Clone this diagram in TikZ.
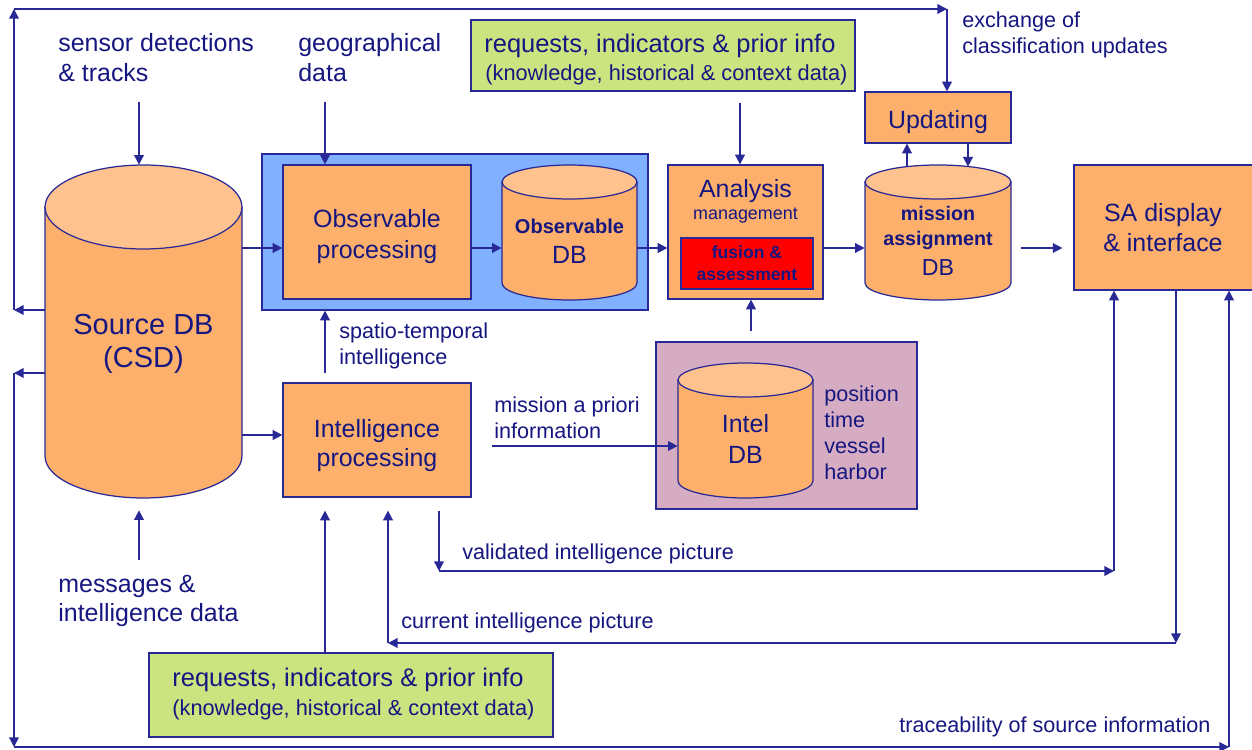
\documentclass[tikz,border=0pt]{standalone}
\usepackage{fontspec}
\setmainfont{Liberation Sans}
\usetikzlibrary{arrows.meta,calc}
\definecolor{ink}{RGB}{22,22,128}
\definecolor{edge}{RGB}{40,40,150}
\definecolor{orng}{RGB}{252,176,108}
\definecolor{orngtop}{RGB}{253,194,142}
\definecolor{skyb}{RGB}{128,176,255}
\definecolor{lime}{RGB}{204,228,128}
\definecolor{mauve}{RGB}{214,172,194}
\newcommand\fs[2]{\fontsize{#1}{#2}\selectfont}
\begin{document}
\begin{tikzpicture}[x=0.02cm,y=-0.02cm,
  every node/.style={inner sep=0pt, text=ink},
  box/.style={draw=edge, line width=0.7pt, fill=orng, rectangle},
  holder/.style={rectangle, draw=none, fill=none},
  arr/.style={draw=edge, line width=0.85pt, -{Triangle[length=5.5pt,width=5.5pt]}},
  cylbody/.style={draw=edge, line width=0.7pt, fill=orng},
  cyltop/.style={draw=edge, line width=0.7pt, fill=orngtop},
  big/.style={font=\fs{14.2}{17}, align=center},
  lab/.style={font=\fs{14.2}{17}, align=left, anchor=west},
  sml/.style={font=\fs{12.3}{14.7}, align=left, anchor=west},
]
\fill[white] (0,0) rectangle (1252,750);
\useasboundingbox (0,0) rectangle (1252,750);

% group panels
\node[draw=edge, line width=0.7pt, fill=skyb, minimum width=7.72cm, minimum height=3.12cm] (obsgrp) at (455,232) {};
\node[draw=edge, line width=0.7pt, fill=mauve, minimum width=5.22cm, minimum height=3.34cm] (intgrp) at (786.5,425.5) {};

% Source DB drum
\path[cylbody] (45,207) -- (45,456) arc[start angle=180, end angle=360, x radius=1.97cm, y radius=0.84cm] -- (242,207) -- cycle;
\path[cyltop] (143.5,207) ellipse [x radius=1.97cm, y radius=0.84cm];
\node[holder, minimum width=3.94cm, minimum height=6.66cm] (src) at (143.5,331.5) {};
\node[font=\fs{16.5}{20}] (srcA) at (143.5,325) {Source DB};
\node[font=\fs{16.5}{20}] (srcB) at (143.5,360) {(CSD)};

% Observable DB drum
\path[cylbody] (502,182) -- (502,283) arc[start angle=180, end angle=360, x radius=1.35cm, y radius=0.34cm] -- (637,182) -- cycle;
\path[cyltop] (569.5,182) ellipse [x radius=1.35cm, y radius=0.34cm];
\node[holder, minimum width=2.7cm, minimum height=2.7cm] (obsdb) at (569.5,232.5) {};
\node[font=\bfseries\fs{11.4}{14}] (obsdbA) at (569.5,226) {Observable};
\node[font=\fs{14.2}{17}] (obsdbB) at (569.5,255) {DB};

% mission assignment DB drum
\path[cylbody] (865,182) -- (865,283) arc[start angle=180, end angle=360, x radius=1.46cm, y radius=0.34cm] -- (1011,182) -- cycle;
\path[cyltop] (938,182) ellipse [x radius=1.46cm, y radius=0.34cm];
\node[holder, minimum width=2.92cm, minimum height=2.7cm] (misdb) at (938,232.5) {};
\node[font=\bfseries\fs{11.2}{14}] (misdbA) at (938,213) {mission};
\node[font=\bfseries\fs{11.2}{14}] (misdbB) at (938,240) {assignment};
\node[font=\fs{13.2}{16}] (misdbC) at (938,268) {DB};

% Intel DB drum
\path[cylbody] (678,380) -- (678,481) arc[start angle=180, end angle=360, x radius=1.35cm, y radius=0.34cm] -- (813,380) -- cycle;
\path[cyltop] (745.5,380) ellipse [x radius=1.35cm, y radius=0.34cm];
\node[holder, minimum width=2.7cm, minimum height=2.7cm] (inteldb) at (745.5,430.5) {};
\node[font=\fs{14.2}{18}, align=center] (inteldbT) at (745.5,439) {Intel\\DB};

% processing boxes
\node[box, minimum width=3.76cm, minimum height=2.68cm] (obsproc) at (377,232) {};
\node[big, font=\fs{14.2}{18}] (obsprocT) at (377,236.5) {Observable\\processing};
\node[box, minimum width=3.76cm, minimum height=2.28cm] (intproc) at (377,440) {};
\node[big] (intprocT) at (377,445.5) {Intelligence\\processing};

\node[box, minimum width=3.1cm, minimum height=2.68cm] (analysis) at (745.5,232) {};
\node[font=\fs{14.2}{17}] (analysisA) at (745.5,191) {Analysis};
\node[font=\fs{10.2}{12}] (analysisB) at (745.5,216) {management};
\node[draw=edge, line width=0.7pt, fill=red, minimum width=2.64cm, minimum height=1.02cm,
      font=\bfseries\fs{10}{12.5}, align=center] (fusion) at (747,263.5) {fusion \&\\assessment};

\node[box, minimum width=2.92cm, minimum height=1.02cm] (updating) at (938,117.5) {};
\node[font=\fs{14.2}{17}] (updatingT) at (938,122) {Updating};
\node[box, minimum width=3.62cm, minimum height=2.5cm] (sa) at (1164.5,227.5) {};
\node[big] (saT) at (1163,228) {SA display\\\& interface};

% request boxes
\node[draw=edge, line width=0.7pt, fill=lime, minimum width=7.68cm, minimum height=1.42cm] (reqT) at (663,55.5) {};
\node[anchor=west, font=\fs{14.5}{17}] (reqTa) at (484,46) {requests, indicators \& prior info};
\node[anchor=west, font=\fs{12.4}{15}] (reqTb) at (485,75) {(knowledge, historical \& context data)};
\node[draw=edge, line width=0.7pt, fill=lime, minimum width=8.08cm, minimum height=1.68cm] (reqB) at (351,695) {};
\node[anchor=west, font=\fs{14.5}{17}] (reqBa) at (172,680) {requests, indicators \& prior info};
\node[anchor=west, font=\fs{12.4}{15}] (reqBb) at (172,710) {(knowledge, historical \& context data)};

% free labels
\node[lab] (sensorlbl) at (58,58) {sensor detections\\\& tracks};
\node[lab] (geolbl) at (298,58) {geographical\\data};
\node[sml] (exchlbl) at (962,35) {exchange of\\classification updates};
\node[lab, font=\fs{14.2}{16}] (msglbl) at (58,601) {messages \&\\intelligence data};
\node[sml] (spatlbl) at (339,346) {spatio-temporal\\intelligence};
\node[sml] (maplbl) at (494,418) {mission a priori\\information};
\node[sml] (attrlbl) at (824,433) {position\\time\\vessel\\harbor};
\node[sml] (vallbl) at (462,554) {validated intelligence picture};
\node[sml] (curlbl) at (401,623) {current intelligence picture};
\node[sml] (tracelbl) at (899,727) {traceability of source information};

% main row flow
\coordinate (row1) at (0,248);
\draw[arr] (src.east |- row1) -- (obsproc.west |- row1);
\draw[arr] (obsproc.east |- row1) -- (obsdb.west |- row1);
\draw[arr] (obsdb.east |- row1) -- (analysis.west |- row1);
\draw[arr] (analysis.east |- row1) -- (misdb.west |- row1);
\draw[arr, shorten <=0.2cm, shorten >=0.22cm] (misdb.east |- row1) -- (sa.west |- row1);

% inputs from above
\coordinate (sensorout) at (139,102);
\draw[arr] (sensorout) -- (sensorout |- src.north);
\coordinate (geoout) at (325,102);
\draw[arr] (geoout) -- (geoout |- obsproc.north);
\coordinate (reqx) at (740,0);
\draw[arr, shorten <=0.22cm] (reqT.south -| reqx) -- (analysis.north -| reqx);

% updating loop
\coordinate (upx) at (907,0);
\coordinate (dnx) at (968,0);
\draw[arr] ($(misdb.north -| upx)+(0,2)$) -- (updating.south -| upx);
\draw[arr] (updating.south -| dnx) -- ($(misdb.north -| dnx)+(0,2)$);

% upper feedback loop
\coordinate (lA) at (14,310);
\coordinate (tl) at (14,9);
\coordinate (tr) at (947,9);
\draw[arr] (src.west |- lA) -- (lA);
\draw[arr] (lA) -- (tl);
\draw[arr] (tl) -- (tr);
\draw[arr] (tr) -- (updating.north -| tr);

% lower feedback loop (traceability)
\coordinate (lB) at (14,373);
\coordinate (bl) at (14,747);
\coordinate (br) at (1229,747);
\draw[arr] (src.west |- lB) -- (lB);
\draw[arr] (lB) -- (bl);
\draw[arr] (bl) -- (br);
\draw[arr] (br) -- (sa.south -| br);

% intelligence branch
\coordinate (row2) at (0,435);
\draw[arr] (src.east |- row2) -- (intproc.west |- row2);
\coordinate (spst) at (325,373);
\draw[arr] (spst) -- (spst |- obsgrp.south);
\coordinate (mapst) at (492,446);
\draw[arr] (mapst) -- (mapst -| inteldb.west);
\coordinate (anx) at (751,0);
\draw[arr, shorten <=0.2cm] (intgrp.north -| anx) -- (analysis.south -| anx);

% validated intelligence picture
\coordinate (vB) at (439,571);
\coordinate (vC) at (1114,571);
\draw[arr, shorten <=0.26cm] (intproc.south -| vB) -- (vB);
\draw[arr] (vB) -- (vC);
\draw[arr] (vC) -- (sa.south -| vC);

% current intelligence picture
\coordinate (cA) at (1176,643);
\coordinate (cB) at (388,643);
\draw[arr] (sa.south -| cA) -- (cA);
\draw[arr] (cA) -- (cB);
\draw[arr, shorten >=0.26cm] (cB) -- (intproc.south -| cB);

% inputs from below
\coordinate (mA) at (139,560);
\draw[arr, shorten >=0.24cm] (mA) -- (mA |- src.south);
\draw[arr, shorten >=0.26cm] (reqB.north -| spst) -- (intproc.south -| spst);
\end{tikzpicture}
\end{document}
